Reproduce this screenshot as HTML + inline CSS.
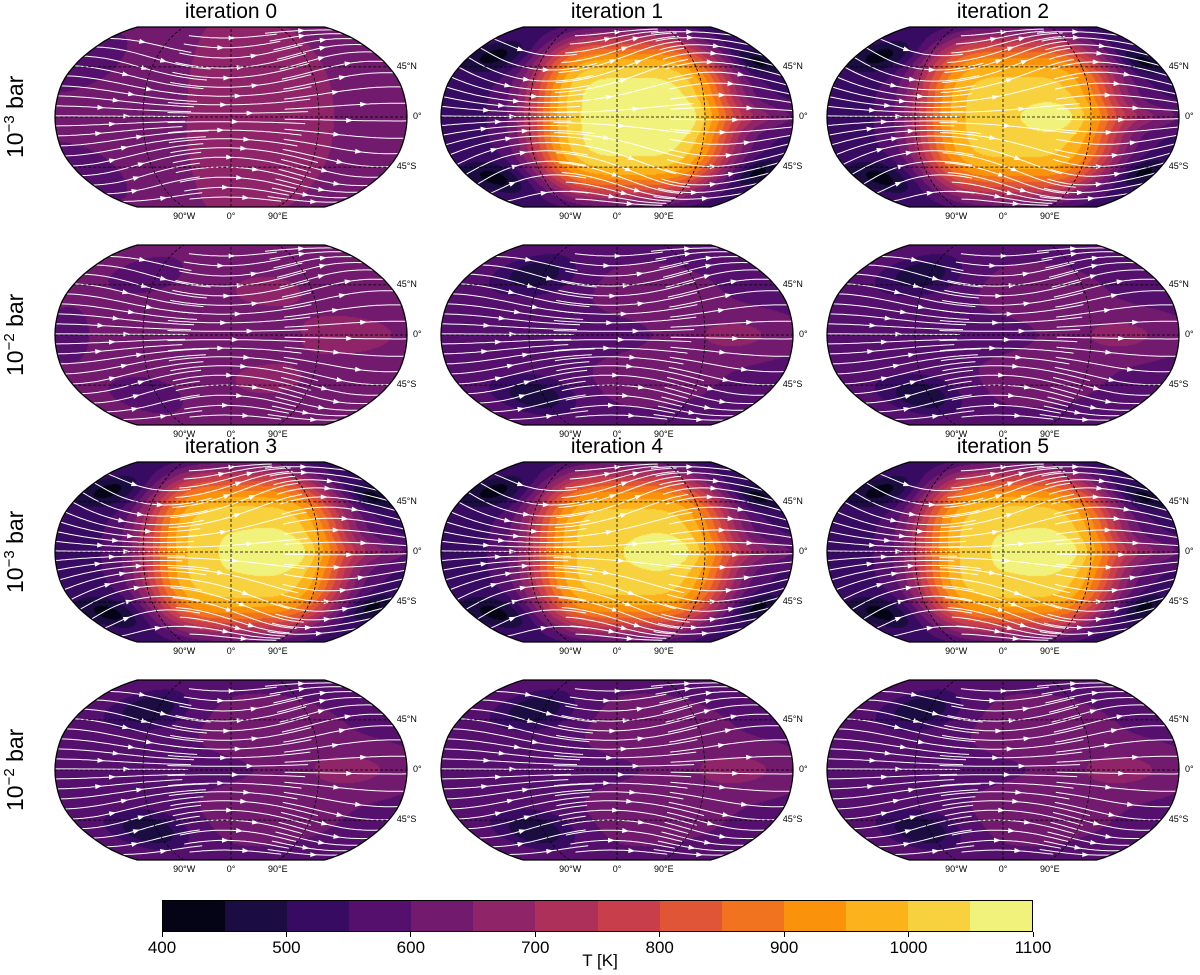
<!DOCTYPE html>
<html><head><meta charset="utf-8">
<style>
body{margin:0;background:#fff;font-family:"Liberation Sans",sans-serif;}
#fig{position:relative;width:1200px;height:975px;overflow:hidden;background:#fff;}
.panel{position:absolute;width:352px;height:180px;}
.panel canvas,.panel svg{position:absolute;left:0;top:0;}
.title{position:absolute;width:352px;text-align:center;font-size:21px;color:#000;}
.rowlab{position:absolute;font-size:23px;transform:rotate(-90deg);transform-origin:center;white-space:nowrap;width:120px;text-align:center;}
.lab{position:absolute;font-size:9px;color:#000;white-space:nowrap;}
.cb{position:absolute;left:162px;top:900px;width:871px;height:32px;border:1px solid #000;box-sizing:border-box;display:flex;}
.cb div{flex:1;}
.tick{position:absolute;top:932px;width:1px;height:5px;background:#000;}
.tl{position:absolute;top:938px;font-size:17px;width:60px;text-align:center;}
</style></head>
<body>
<div id="fig">
<div class="cb" id="cb"></div>
<div style="position:absolute;left:560px;top:951px;width:80px;text-align:center;font-size:17px">T [K]</div>
</div>
<script>
const levels=[400,450,500,550,600,650,700,750,800,850,900,950,1000,1050,1100];
const cbTicks=[400,500,600,700,800,900,1000,1100];
const cmap=["#050416","#1b0c41","#370b62","#55106d","#721a6e","#8f2469","#ad305b","#c83e4b","#e05536","#f1731f","#fa920c","#fcb21a","#f8d13f","#f1f27b"];
const iterations=[[0,1,2],[0,1,2],[3,4,5],[3,4,5]];
const pressureExp=["3","2","3","2"];
const hotAmp=[[70,540,490],[60,80,80],[510,500,510],[80,80,80]];
const nightT=[[600,540,540],[615,585,585],[540,540,540],[590,590,590]];
const coldDepth=[[0,110,110],[40,130,130],[110,110,110],[140,140,140]];
const latLabels=["45°N","0°","45°S"];
const lonLabels=["90°W","0°","90°E"];

const fig=document.getElementById('fig');
const colX=[55,441,827], rowY=[27,245,462,680];
const X=[1,.9986,.9954,.99,.9822,.973,.96,.9427,.9216,.8962,.8679,.835,.7986,.7597,.7186,.6732,.6213,.5722,.5322];
const Y=[0,.062,.124,.186,.248,.31,.372,.434,.4958,.5571,.6176,.6769,.7346,.7903,.8435,.8936,.9394,.9761,1];
function interp(t,a){const i=Math.min(17,Math.floor(t/5));const f=t/5-i;return a[i]+(a[i+1]-a[i])*f;}
function proj(lon,lat){const a=Math.abs(lat);return [176+176*interp(a,X)*lon/180,90-90*Math.sign(lat)*interp(a,Y)];}
function invLat(yy){for(let i=0;i<18;i++){if(yy<=Y[i+1]){return 5*(i+(yy-Y[i])/(Y[i+1]-Y[i]));}}return 90;}
function g2(a,b){return Math.exp(-(a*a+b*b));}
function T(r,c,lon,lat){
  const al=Math.abs(lat), hot=hotAmp[r][c], base=nightT[r][c], cold=coldDepth[r][c];
  if(r%2===0){
    if(hot<200){return base+hot*Math.exp(-Math.pow((lon-30)/130,2))-40*g2((lon+170)/40,(al-50)/20);}
    let t=base+hot*Math.exp(-Math.pow((lon-15)/105,4))*Math.exp(-Math.pow(lat/72,4));
    t+=60*g2((lon-60)/40,lat/15);
    t+=90*g2((lon-150)/40,lat/12);
    t-=cold*(g2((lon+150)/35,(al-55)/15)+g2((lon-165)/22,(al-50)/12));
    return t;
  }
  let t=base+hot*g2((lon-120)/60,lat/20)+45*g2((lon-40)/70,(al-40)/25);
  t-=cold*g2((lon+100)/45,(al-55)/18);
  t-=30*g2((lon+170)/30,lat/30);
  return t;
}
function ns(tag){return document.createElementNS('http://www.w3.org/2000/svg',tag);}
const cb=document.getElementById('cb');
cmap.forEach((col,i)=>{const d=document.createElement('div');d.style.background=col;


cb.appendChild(d);});
cbTicks.forEach(v=>{const x=162+871*(v-400)/700;
const t=document.createElement('div');t.className='tick';t.style.left=(x-0.5)+'px';


fig.appendChild(t);
const l=document.createElement('div');l.className='tl';l.style.left=(x-30)+'px';l.textContent=v;


fig.appendChild(l);});
let outline='';
for(let lat=-90;lat<=90;lat+=5){const p=proj(-180,lat);outline+=(outline?'L':'M')+p[0].toFixed(1)+','+p[1].toFixed(1);}
for(let lat=90;lat>=-90;lat-=5){const p=proj(180,lat);outline+='L'+p[0].toFixed(1)+','+p[1].toFixed(1);}
outline+='Z';
for(let r=0;r<4;r++){
  const rl=document.createElement('div');rl.className='rowlab';
  rl.style.left=(15-60)+'px';rl.style.top=(rowY[r]+90-14)+'px';
  rl.innerHTML='10<sup style="font-size:15px">−'+pressureExp[r]+'</sup> bar';
  
  
  fig.appendChild(rl);
  for(let c=0;c<3;c++){
    const px=colX[c],py=rowY[r];
    if(r%2===0){const t=document.createElement('div');t.className='title';t.style.left=px+'px';t.style.top=(py-27)+'px';
      t.textContent='iteration '+iterations[r][c];
      
      
      fig.appendChild(t);}
    const pn=document.createElement('div');pn.className='panel';pn.style.left=px+'px';pn.style.top=py+'px';
    
    
    fig.appendChild(pn);
    const cv=document.createElement('canvas');cv.width=352;cv.height=180;
    
    
    pn.appendChild(cv);
    const ctx=cv.getContext('2d');const im=ctx.createImageData(352,180);
    const rgb=cmap.map(h=>[parseInt(h.substr(1,2),16),parseInt(h.substr(3,2),16),parseInt(h.substr(5,2),16)]);
    for(let j=0;j<180;j++){
      const yy=Math.abs(90-(j+0.5))/90;const la=invLat(Math.min(1,yy))*(j<90?1:-1);
      const xs=interp(Math.abs(la),X);
      for(let i=0;i<352;i++){
        const lon=((i+0.5)-176)/(176*xs)*180;
        if(Math.abs(lon)>180)continue;
        let k=Math.floor((T(r,c,lon,la)-400)/50);k=Math.max(0,Math.min(13,k));
        const o=(j*352+i)*4;im.data[o]=rgb[k][0];im.data[o+1]=rgb[k][1];im.data[o+2]=rgb[k][2];im.data[o+3]=255;
      }
    }
    ctx.putImageData(im,0,0);
    const svg=ns('svg');svg.setAttribute('width',352);svg.setAttribute('height',180);
    
    
    svg.style.overflow='visible';pn.appendChild(svg);
    const cid='clip'+r+c;
    const cp=ns('clipPath');cp.setAttribute('id',cid);const cpp=ns('path');cpp.setAttribute('d',outline);cp.appendChild(cpp);svg.appendChild(cp);
    const gg=ns('g');gg.setAttribute('clip-path','url(#'+cid+')');svg.appendChild(gg);
    const upperHot=(r%2===0&&hotAmp[r][c]>200);
    const vk=upperHot?0.3:0.2;
    const starts=[-185,-65,55];
    starts.forEach((ls,si)=>{
    for(let s=-80+si*3;s<=80;s+=9){
      let lon=ls,lat=s,d='';const pts=[];
      const len=135+((s*7+si*13)%30+30)%30;
      while(lon<=ls+len&&lon<=185){
        const p=proj(Math.max(-180,Math.min(180,lon)),lat);pts.push(p);
        const v=upperHot?vk*Math.sin(2*lat*Math.PI/180)*Math.cos((lon-15)*Math.PI/180):
          -vk*Math.sin(2*lat*Math.PI/180)*Math.cos((lon+100)*Math.PI/180);
        lat+=v*3;lon+=3;if(Math.abs(lat)>86)break;
      }
      if(pts.length<3)continue;
      pts.forEach((p,i)=>{d+=(i?'L':'M')+p[0].toFixed(1)+','+p[1].toFixed(1);});
      const sl=ns('path');sl.setAttribute('d',d);sl.setAttribute('fill','none');sl.setAttribute('stroke','#fff');sl.setAttribute('stroke-width','1');
      
      
      gg.appendChild(sl);
      const idx=Math.floor(pts.length*(0.35+0.3*(((s+90)*0.37)%1)));
      if(idx+1<pts.length){const a=pts[idx],b=pts[idx+1];const ang=Math.atan2(b[1]-a[1],b[0]-a[0]);
        const ar=ns('path');ar.setAttribute('d','M4,0L-3,-2.5L-3,2.5Z');ar.setAttribute('fill','#fff');
        ar.setAttribute('transform','translate('+a[0].toFixed(1)+','+a[1].toFixed(1)+') rotate('+(ang*180/Math.PI).toFixed(1)+')');
        
        
        gg.appendChild(ar);}
    }});
    [-45,0,45].forEach(la=>{const a=proj(-180,la),b=proj(180,la);const l=ns('line');
      l.setAttribute('x1',a[0]);l.setAttribute('x2',b[0]);l.setAttribute('y1',a[1]);l.setAttribute('y2',b[1]);
      l.setAttribute('stroke','#000');l.setAttribute('stroke-width','0.8');l.setAttribute('stroke-dasharray','3,2');
      
      
      gg.appendChild(l);});
    [-90,0,90].forEach(lo=>{let d='';for(let la=-90;la<=90;la+=5){const p=proj(lo,la);d+=(d?'L':'M')+p[0].toFixed(1)+','+p[1].toFixed(1);}
      const l=ns('path');l.setAttribute('d',d);l.setAttribute('fill','none');l.setAttribute('stroke','#000');l.setAttribute('stroke-width','0.8');l.setAttribute('stroke-dasharray','3,2');
      
      
      gg.appendChild(l);});
    const ol=ns('path');ol.setAttribute('d',outline);ol.setAttribute('fill','none');ol.setAttribute('stroke','#000');ol.setAttribute('stroke-width','1.3');
    
    
    svg.appendChild(ol);
    [45,0,-45].forEach((la,i)=>{const p=proj(180,la);const t=document.createElement('div');t.className='lab';
      t.style.left=(px+p[0]+(la===0?6:8))+'px';t.style.top=(py+p[1]-6)+'px';t.textContent=latLabels[i];
      
      
      fig.appendChild(t);});
    [-90,0,90].forEach((lo,i)=>{const p=proj(lo,-90);const t=document.createElement('div');t.className='lab';
      t.style.left=(px+p[0]-14)+'px';t.style.width='28px';t.style.textAlign='center';t.style.top=(py+184)+'px';t.textContent=lonLabels[i];
      
      
      fig.appendChild(t);});
  }
}
</script>
</body></html>
